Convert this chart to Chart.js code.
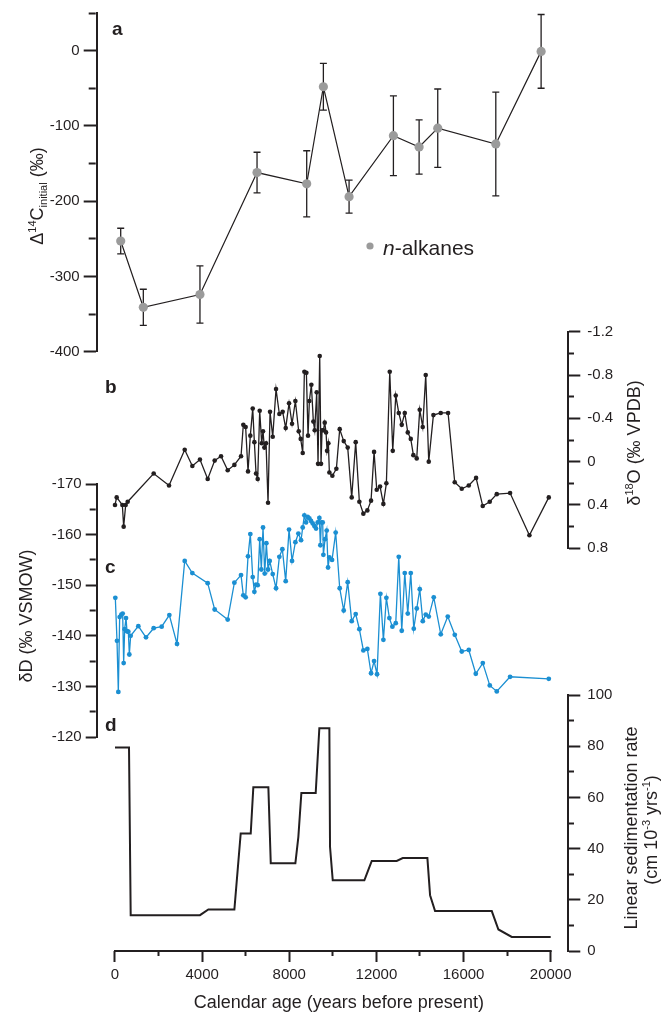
<!DOCTYPE html>
<html>
<head>
<meta charset="utf-8">
<script src="https://cdn.jsdelivr.net/npm/chart.js@4.4.1/dist/chart.umd.min.js"></script>
<style>
  html, body { margin: 0; padding: 0; background: #fff; }
  #wrap { position: relative; width: 662px; height: 1014px; }
  #wrap canvas { position: absolute; left: 0; top: 0; }
</style>
</head>
<body>
<div id="wrap">
  <canvas id="panelA" width="662" height="1014"></canvas>
  <canvas id="panelB" width="662" height="1014"></canvas>
  <canvas id="panelC" width="662" height="1014"></canvas>
  <canvas id="panelD" width="662" height="1014"></canvas>
</div>
<script>
// ---- data ----
// a: compound-specific radiocarbon of n-alkanes
const aAge  = [262, 1300, 3900, 6520, 8800, 9565, 10745, 12780, 13960, 14815, 17480, 19560];
const aD14C = [-253, -341, -324, -162, -177, -48, -194, -113, -128, -103, -124, -1];
const aErr  = [17, 24, 38, 27, 44, 31, 22, 53, 36, 52, 69, 49];

// b: d18O (permil VPDB)
const bAge = [0, 77, 337, 398, 490, 582, 1775, 2480, 3200, 3550, 3900, 4255, 4575, 4867, 5173, 5480,
  5785, 5890, 5997, 6106, 6212, 6322, 6398, 6474, 6550, 6642, 6734, 6795, 6856, 6933, 7025, 7117,
  7240, 7392, 7544, 7697, 7836, 7989, 8127, 8280, 8433, 8525, 8617, 8693, 8785, 8861, 8922, 9014,
  9105, 9167, 9259, 9320, 9397, 9458, 9504, 9565, 9627, 9688, 9734, 9795, 9841, 9978, 10162, 10315,
  10499, 10682, 10866, 11049, 11217, 11401, 11584, 11754, 11892, 12015, 12167, 12319, 12457, 12612,
  12750, 12888, 13026, 13163, 13301, 13439, 13577, 13697, 13850, 13988, 14126, 14264, 14402, 14616,
  14953, 15289, 15595, 15917, 16239, 16575, 16881, 17202, 17524, 18136, 19023, 19912];
const bD18O = [0.40, 0.33, 0.40, 0.60, 0.40, 0.37, 0.11, 0.22, -0.11, 0.04, -0.02, 0.16, -0.01, -0.05, 0.08, 0.03,
  -0.05, -0.34, -0.32, 0.09, -0.24, -0.49, -0.18, 0.11, 0.16, -0.47, -0.17, -0.28, -0.13, -0.17, 0.38, -0.46,
  -0.23, -0.67, -0.44, -0.46, -0.31, -0.54, -0.35, -0.56, -0.28, -0.21, -0.08, -0.83, -0.82, -0.24, -0.56, -0.71,
  -0.37, -0.29, -0.64, 0.02, -0.975, 0.02, -0.29, -0.29, -0.36, -0.27, -0.10, -0.17, 0.10, 0.13, 0.065, -0.30,
  -0.19, -0.13, 0.33, -0.18, 0.37, 0.48, 0.45, 0.36, -0.09, 0.26, 0.23, 0.39, 0.20, -0.83,
  -0.10, -0.61, -0.45, -0.34, -0.45, -0.27, -0.21, -0.06, -0.03, -0.48, -0.32, -0.80, 0.00, -0.43,
  -0.45, -0.45, 0.19, 0.25, 0.22, 0.15, 0.41, 0.37, 0.30, 0.29, 0.68, 0.33];

// c: dD (permil VSMOW)
const cAge = [15, 92, 153, 214, 291, 352, 398, 444, 505, 551, 612, 658, 719, 1071, 1423, 1775, 2142, 2495,
  2847, 3200, 3550, 4255, 4575, 5173, 5480, 5785, 5890, 5997, 6106, 6212, 6322, 6398, 6474, 6550, 6642,
  6718, 6795, 6872, 6948, 7025, 7101, 7240, 7392, 7544, 7682, 7836, 7989, 8127, 8280, 8417, 8540, 8617,
  8693, 8770, 8847, 8922, 8999, 9076, 9151, 9229, 9305, 9381, 9427, 9473, 9534, 9565, 9642, 9718, 9780,
  9841, 9963, 10130, 10315, 10499, 10682, 10866, 11049, 11217, 11401, 11584, 11754, 11892, 12029, 12182,
  12320, 12457, 12595, 12733, 12888, 13026, 13163, 13301, 13439, 13577, 13715, 13852, 13990, 14128, 14265,
  14403, 14632, 14954, 15275, 15597, 15918, 16240, 16561, 16883, 17204, 17525, 18136, 19912];
const cDD = [-147.5, -139.0, -128.9, -143.7, -144.2, -144.4, -134.6, -141.3, -143.5, -140.9, -140.8, -136.3,
  -140.0, -141.9, -139.7, -141.5, -141.8, -144.1, -138.4, -154.8, -152.4, -150.4, -145.2, -143.2, -150.5,
  -152.0, -148.0, -147.6, -155.7, -160.1, -151.6, -148.7, -150.1, -150.0, -159.1, -153.1, -161.4, -152.3,
  -158.3, -153.1, -154.8, -152.2, -149.4, -155.6, -157.1, -150.8, -161.0, -154.8, -158.5, -160.2, -158.9,
  -161.4, -163.8, -162.4, -163.5, -163.2, -162.7, -162.2, -161.7, -161.2, -162.4, -163.3, -157.9, -162.4,
  -162.4, -156.0, -159.1, -160.8, -153.5, -155.5, -155.0, -160.4, -149.4, -145.0, -150.6, -142.9, -144.3,
  -141.3, -137.1, -137.4, -132.6, -135.0, -132.4, -148.3, -139.2, -147.5, -143.5, -141.8, -142.5, -155.6,
  -141.0, -152.4, -144.4, -152.4, -141.4, -145.4, -149.2, -142.9, -144.2, -143.8, -147.6, -140.3, -143.8,
  -140.2, -136.9, -137.2, -132.5, -134.6, -130.2, -129.0, -131.9, -131.5];

// d: linear sedimentation rate (cm 10^-3 yr^-1)
const dAge  = [0, 643, 720, 3900, 4285, 5480, 5770, 6230, 6350, 7040, 7150, 8280, 8417, 8555, 9213, 9380,
  9840, 9870, 9995, 11447, 11585, 11786, 12932, 13208, 14340, 14463, 14692, 17295, 17600, 18213, 20000];
const dRate = [79.5, 79.5, 14, 14, 16.2, 16.2, 45.9, 45.9, 64, 64, 34.3, 34.3, 44.6, 61.7, 61.7, 87,
  87, 40.7, 27.6, 27.6, 30.7, 35.2, 35.2, 36.3, 36.3, 21.8, 15.6, 15.6, 8.4, 5.5, 5.5];

// tick values
const xTicks = [0, 2000, 4000, 6000, 8000, 10000, 12000, 14000, 16000, 18000, 20000];
const xTickLabels = [0, 4000, 8000, 12000, 16000, 20000];

// ---- layout ----
const W = 662, H = 1014;
const AXIS_L = 96.7, AXIS_R = 568.3;      // x of left / right y-axis lines
const X_MIN = -840, X_MAX = 20808;        // age at those two lines
const INK = '#231f20';
const GREY = '#9b9b9b';
const BLUE = '#1b8fd2';
const FONT = '"Liberation Sans", Arial, Helvetica, sans-serif';
const TICK_SIZE = 15;
Chart.defaults.font.family = FONT;
Chart.defaults.color = INK;

const pts = (xs, ys) => xs.map((x, i) => ({x: x, y: ys[i]}));

function xHidden() {
    return {type: 'linear', min: X_MIN, max: X_MAX, display: false};
}

function yAxis(side, min, max, step, isMajor, fmt, tl, ml, reverse) {
    return {
        type: 'linear',
        position: side,
        min: min,
        max: max,
        reverse: !!reverse,
        afterFit: s => { s.width = side === 'left' ? AXIS_L : W - AXIS_R; },
        border: {display: true, color: INK, width: 2},
        grid: {
            drawOnChartArea: false,
            tickLength: tl,
            tickWidth: 2,
            tickColor: INK,
            tickBorderDash: c => {
                if (!c.tick || isMajor(c.tick.value)) return [];
                return side === 'left' ? [0, tl - 1 - ml, ml, 100] : [ml, 100];
            }
        },
        ticks: {
            stepSize: step,
            padding: side === 'left' ? 4 : 7,
            color: INK,
            font: {size: TICK_SIZE},
            callback: v => isMajor(v) ? fmt(v) : ''
        }
    };
}

// rotated text with super/subscripts; bx = x of baseline, cy = centre along text
function drawRich(ctx, bx, cy, parts) {
    ctx.save();
    ctx.translate(bx, cy);
    ctx.rotate(-Math.PI / 2);
    ctx.fillStyle = INK;
    ctx.textBaseline = 'alphabetic';
    let total = 0;
    parts.forEach(p => {
        ctx.font = (p.style || '') + ' ' + p.size + 'px ' + FONT;
        p.w = ctx.measureText(p.t).width;
        total += p.w;
    });
    let cx = -total / 2;
    parts.forEach(p => {
        ctx.font = (p.style || '') + ' ' + p.size + 'px ' + FONT;
        ctx.fillText(p.t, cx, p.dy || 0);
        cx += p.w;
    });
    ctx.restore();
}

function letter(ctx, ch, x, y) {
    ctx.save();
    ctx.fillStyle = INK;
    ctx.font = 'bold 19px ' + FONT;
    ctx.fillText(ch, x, y);
    ctx.restore();
}

const baseOpts = (pad, scales) => ({
    responsive: false,
    animation: false,
    devicePixelRatio: 1,
    layout: {padding: pad},
    plugins: {legend: {display: false}, tooltip: {enabled: false}},
    scales: scales
});

// ---- panel a ----
const errorBars = {
    id: 'errorBars',
    beforeDatasetsDraw(chart) {
        const {ctx, scales: {x, y}} = chart;
        ctx.save();
        ctx.strokeStyle = INK;
        ctx.lineWidth = 1.3;
        aAge.forEach((age, i) => {
            const px = x.getPixelForValue(age);
            const top = y.getPixelForValue(aD14C[i] + aErr[i]);
            const bot = y.getPixelForValue(aD14C[i] - aErr[i]);
            ctx.beginPath();
            ctx.moveTo(px, top); ctx.lineTo(px, bot);
            ctx.moveTo(px - 3.5, top); ctx.lineTo(px + 3.5, top);
            ctx.moveTo(px - 3.5, bot); ctx.lineTo(px + 3.5, bot);
            ctx.stroke();
        });
        ctx.restore();
    }
};

const textsA = {
    id: 'textsA',
    afterDraw(chart) {
        const ctx = chart.ctx;
        drawRich(ctx, 43, 196, [
            {t: '\u0394', size: 18},
            {t: '14', size: 11, dy: -7},
            {t: 'C', size: 18},
            {t: 'initial', size: 11, dy: 4},
            {t: ' (\u2030)', size: 18}
        ]);
        letter(ctx, 'a', 112, 35);
        // legend
        ctx.save();
        ctx.fillStyle = GREY;
        ctx.beginPath();
        ctx.arc(370, 246, 3.6, 0, Math.PI * 2);
        ctx.fill();
        ctx.fillStyle = INK;
        ctx.font = 'italic 21px ' + FONT;
        ctx.fillText('n', 383, 255);
        const w = ctx.measureText('n').width;
        ctx.font = '21px ' + FONT;
        ctx.fillText('-alkanes', 383 + w, 255);
        ctx.restore();
    }
};

new Chart(document.getElementById('panelA'), {
    type: 'line',
    data: {
        datasets: [{
            data: pts(aAge, aD14C),
            borderColor: INK,
            borderWidth: 1.2,
            pointRadius: 4.6,
            pointBackgroundColor: GREY,
            pointBorderWidth: 0,
            tension: 0
        }]
    },
    options: baseOpts({top: 11.2, bottom: H - 351.7, left: 0, right: W - AXIS_R}, {
        x: xHidden(),
        y: yAxis('left', -400, 50, 50, v => v % 100 === 0, v => String(v), 13, 7, false)
    }),
    plugins: [errorBars, textsA]
});

// ---- panel b ----
const textsB = {
    id: 'textsB',
    afterDraw(chart) {
        const ctx = chart.ctx;
        drawRich(ctx, 640, 443, [
            {t: '\u03b4', size: 18},
            {t: '18', size: 11, dy: -7},
            {t: 'O (\u2030 VPDB)', size: 18}
        ]);
        letter(ctx, 'b', 105, 393);
    }
};

new Chart(document.getElementById('panelB'), {
    type: 'line',
    data: {
        datasets: [{
            data: pts(bAge, bD18O),
            borderColor: INK,
            borderWidth: 1.3,
            pointRadius: 2.3,
            pointBackgroundColor: INK,
            pointBorderWidth: 0,
            tension: 0
        }]
    },
    options: baseOpts({top: 331.7, bottom: H - 548.3, left: AXIS_L, right: 0}, {
        x: xHidden(),
        y: yAxis('right', -1.2, 0.8, 0.2, v => Math.round(v * 10) % 4 === 0,
            v => Math.round(v * 10) === 0 ? '0' : (Math.round(v * 10) / 10).toFixed(1), 12, 5, true)
    }),
    plugins: [textsB]
});

// ---- panel c ----
const textsC = {
    id: 'textsC',
    afterDraw(chart) {
        const ctx = chart.ctx;
        drawRich(ctx, 32, 616, [
            {t: '\u03b4D (\u2030 VSMOW)', size: 18}
        ]);
        letter(ctx, 'c', 105, 573);
    }
};

new Chart(document.getElementById('panelC'), {
    type: 'line',
    data: {
        datasets: [{
            data: pts(cAge, cDD),
            borderColor: BLUE,
            borderWidth: 1.3,
            pointRadius: 2.4,
            pointBackgroundColor: BLUE,
            pointBorderWidth: 0,
            tension: 0
        }]
    },
    options: baseOpts({top: 484, bottom: H - 737, left: 0, right: W - AXIS_R}, {
        x: xHidden(),
        y: yAxis('left', -170, -120, 5, v => v % 10 === 0, v => String(v), 11, 6, true)
    }),
    plugins: [textsC]
});

// ---- panel d ----
const textsD = {
    id: 'textsD',
    afterDraw(chart) {
        const ctx = chart.ctx;
        const x = chart.scales.x;
        // x-axis line from 0 to 20000 only
        ctx.save();
        ctx.strokeStyle = INK;
        ctx.lineWidth = 2;
        ctx.beginPath();
        ctx.moveTo(x.getPixelForValue(xTicks[0]) - 1, x.top);
        ctx.lineTo(x.getPixelForValue(xTicks[xTicks.length - 1]) + 1, x.top);
        ctx.stroke();
        ctx.fillStyle = INK;
        ctx.font = '18px ' + FONT;
        ctx.textAlign = 'center';
        ctx.fillText('Calendar age (years before present)', 338.8, 1008);
        ctx.restore();
        drawRich(ctx, 637, 828, [
            {t: 'Linear sedimentation rate', size: 18}
        ]);
        drawRich(ctx, 657, 830, [
            {t: '(cm 10', size: 18},
            {t: '-3', size: 11, dy: -7},
            {t: ' yrs', size: 18},
            {t: '-1', size: 11, dy: -7},
            {t: ')', size: 18}
        ]);
        letter(ctx, 'd', 105, 731);
    }
};

new Chart(document.getElementById('panelD'), {
    type: 'line',
    data: {
        datasets: [{
            data: pts(dAge, dRate),
            borderColor: INK,
            borderWidth: 2,
            pointRadius: 0,
            tension: 0
        }]
    },
    options: baseOpts({top: 695, bottom: 0, left: AXIS_L, right: 0}, {
        x: {
            type: 'linear',
            position: 'bottom',
            min: X_MIN,
            max: X_MAX,
            afterFit: s => { s.height = H - 951; },
            afterBuildTicks: s => { s.ticks = xTicks.map(v => ({value: v})); },
            border: {display: false},
            grid: {
                drawOnChartArea: false,
                tickLength: 11,
                tickWidth: 2,
                tickColor: INK,
                tickBorderDash: c => (!c.tick || xTickLabels.includes(c.tick.value)) ? [] : [5, 100]
            },
            ticks: {
                autoSkip: false,
                maxRotation: 0,
                padding: 4,
                color: INK,
                font: {size: TICK_SIZE},
                callback: v => xTickLabels.includes(v) ? String(v) : ''
            }
        },
        y: yAxis('right', 0, 100, 10, v => v % 20 === 0, v => String(v), 12, 5, false)
    }),
    plugins: [textsD]
});
</script>
</body>
</html>
